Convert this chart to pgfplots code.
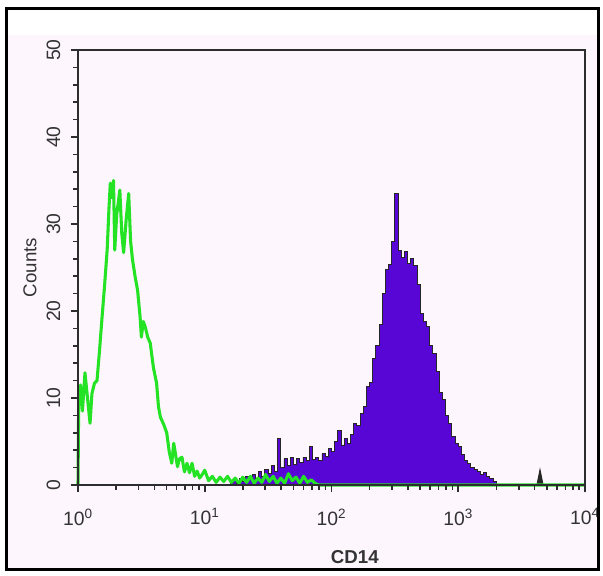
\documentclass[border=0pt]{standalone}
\usepackage{pgfplots}
\pgfplotsset{compat=1.18}
\usepackage{fontspec}
\setmainfont{Liberation Sans}
\definecolor{bgpink}{RGB}{253,246,252}
\definecolor{cdpurple}{RGB}{88,6,214}
\definecolor{cdgreen}{RGB}{36,226,36}
\definecolor{axisgray}{RGB}{45,45,45}
\pgfplotstableread{
e c
1.200 0.3
1.225 0.5
1.250 0.2
1.275 0.8
1.300 0.4
1.325 1.0
1.350 0.6
1.375 1.2
1.400 0.8
1.425 1.5
1.450 1.0
1.475 1.8
1.500 1.3
1.525 2.2
1.550 1.6
1.575 5.4
1.600 2.0
1.625 3.0
1.650 2.2
1.675 3.2
1.700 2.4
1.725 3.0
1.750 2.6
1.775 3.2
1.800 2.8
1.825 4.4
1.850 2.9
1.875 3.2
1.900 2.8
1.925 3.6
1.950 3.3
1.975 4.2
2.000 3.8
2.025 5.0
2.050 6.3
2.075 4.6
2.100 5.4
2.125 4.8
2.150 5.8
2.175 7.1
2.200 6.8
2.225 8.2
2.250 9.0
2.275 11.3
2.300 11.8
2.325 14.5
2.350 16.0
2.375 18.5
2.400 22.0
2.425 24.8
2.450 25.3
2.475 28.0
2.500 33.5
2.525 27.0
2.550 26.2
2.575 26.8
2.600 25.5
2.625 26.0
2.650 25.2
2.675 23.0
2.700 19.7
2.725 18.8
2.750 18.2
2.775 16.0
2.800 15.1
2.825 13.0
2.850 10.6
2.875 9.8
2.900 8.0
2.925 7.1
2.950 5.6
2.975 4.8
3.000 4.4
3.025 3.5
3.050 2.8
3.075 2.5
3.100 2.0
3.125 1.8
3.150 1.5
3.175 1.2
3.200 1.4
3.225 1.0
3.250 0.7
3.275 0.4
3.300 0
}\purpledata
\pgfplotstableread{
e c
0.000 0
0.005 9.0
0.020 11.5
0.035 8.5
0.055 12.9
0.075 10.0
0.095 7.1
0.110 10.5
0.130 11.7
0.150 12.0
0.170 15.5
0.190 19.3
0.210 23.0
0.230 27.0
0.245 32.0
0.255 34.7
0.270 33.0
0.280 35.0
0.290 27.0
0.305 31.0
0.330 33.9
0.345 29.0
0.360 26.7
0.380 30.5
0.400 33.5
0.415 28.0
0.430 25.9
0.450 24.0
0.470 22.4
0.490 19.3
0.500 17.0
0.515 18.8
0.530 18.2
0.550 17.0
0.570 16.3
0.595 13.5
0.620 11.7
0.635 9.0
0.650 7.8
0.675 7.0
0.700 6.0
0.720 3.8
0.740 2.5
0.755 4.8
0.770 3.5
0.785 2.1
0.800 3.0
0.820 3.2
0.840 1.5
0.860 2.5
0.880 1.4
0.900 2.5
0.920 1.0
0.940 1.6
0.960 0.8
0.980 1.2
1.000 1.7
1.030 0.5
1.060 1.0
1.090 0.3
1.120 0.9
1.150 0.4
1.180 1.0
1.210 0.3
1.240 0.8
1.270 0.2
1.300 0.9
1.330 0.3
1.360 1.0
1.390 0.2
1.420 0.8
1.450 0.3
1.480 1.2
1.510 0.4
1.540 1.0
1.570 0.2
1.600 0.8
1.630 0.2
1.660 1.3
1.690 0.5
1.720 0.9
1.750 0.2
1.780 1.0
1.810 0.3
1.840 0.6
1.870 0.2
1.900 0
4.000 0
}\greendata
\begin{document}
\begin{tikzpicture}
\useasboundingbox (0pt,0pt) rectangle (452.25pt,431.25pt);
\fill[bgpink] (4.5pt,4.5pt) rectangle (448.5pt,405pt);
\begin{axis}[
  at={(58.5pt,67.5pt)}, anchor=south west,
  width=380.25pt, height=326.25pt, scale only axis,
  xmin=0, xmax=4, ymin=0, ymax=50,
  axis line style={draw=axisgray, line width=1.5pt},
  every tick/.style={draw=axisgray, line width=1.2pt},
  xtick pos=lower, ytick pos=left,
  tick align=outside,
  major tick length=5.5pt, minor tick length=3.5pt,
  xtick={0,1,2,3,4},
  xticklabels={10\textsuperscript{0},10\textsuperscript{1},10\textsuperscript{2},10\textsuperscript{3},10\textsuperscript{4}},
  minor xtick={0.301,0.477,0.602,0.699,0.778,0.845,0.903,0.954,
               1.301,1.477,1.602,1.699,1.778,1.845,1.903,1.954,
               2.301,2.477,2.602,2.699,2.778,2.845,2.903,2.954,
               3.301,3.477,3.602,3.699,3.778,3.845,3.903,3.954},
  ytick={0,10,20,30,40,50},
  minor ytick={2,4,6,8,12,14,16,18,22,24,26,28,32,34,36,38,42,44,46,48},
  /pgf/number format/assume math mode=true,
  ticklabel style={font=\fontsize{14.5}{16}\selectfont, text=black!80},
  yticklabel style={rotate=90, anchor=south, inner sep=7.5pt},
  xticklabel style={inner sep=0pt, yshift=-12pt},
  label style={font=\fontsize{14}{16}\selectfont, text=black!80},
  xlabel={\textbf{CD14}},
  xlabel style={at={(axis description cs:0.546,-0.166)}, anchor=center},
  ylabel={Counts},
  ylabel style={at={(axis description cs:-0.095,0.5)}, anchor=center},
  clip=false,
  axis on top,
]
\addplot[const plot, fill=cdpurple, draw=black!85, line width=0.7pt] table[x=e, y=c] {\purpledata} \closedcycle;
\addplot[fill=black!85, draw=black!85, line width=0.6pt] coordinates {(3.62,0) (3.645,1.8) (3.67,0)} \closedcycle;
\addplot[draw=black!85, line width=2pt] coordinates {(0,0) (1.2,0)};
\addplot[draw=cdgreen, line width=2.3pt, line join=round] table[x=e, y=c] {\greendata};
\end{axis}
\draw[line width=2.25pt] (4.875pt,4.5pt) rectangle (448.875pt,424.5pt);
\end{tikzpicture}
\end{document}
